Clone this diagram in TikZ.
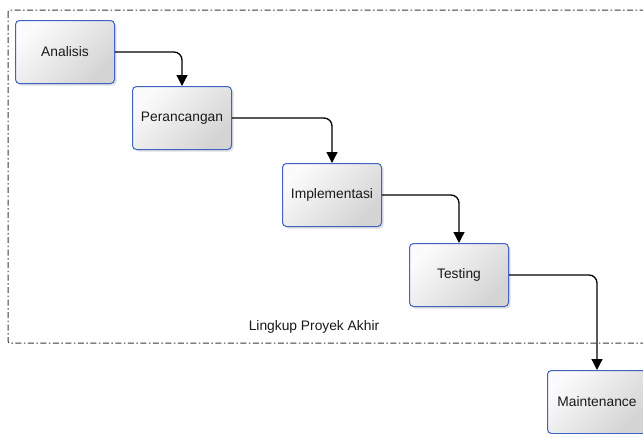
\documentclass[tikz,border=0pt]{standalone}
\usepackage{fontspec}
\setmainfont{Liberation Sans}
\usepackage{xcolor}
\usetikzlibrary{arrows.meta, positioning, shadows}

\definecolor{boxline}{HTML}{3F63C2}
\definecolor{frameline}{HTML}{3A3A3A}

\begin{document}
\begin{tikzpicture}[
  x=1pt, y=-1pt,
  phase/.style={rectangle, rounded corners=4pt, draw=boxline, line width=1pt,
              top color=gray!3, bottom color=gray!34, shading angle=45,
              minimum width=99pt, minimum height=63pt, align=center,
              font=\fontsize{13.8}{16}\selectfont, text=black!90,
              drop shadow={opacity=0.25, shadow xshift=2pt, shadow yshift=-2pt}},
  arrow/.style={-{Triangle[length=11pt, width=11pt]}, line width=1.3pt,
              rounded corners=8pt, draw=black},
  scope frame/.style={draw=frameline, line width=1pt, rounded corners=2pt,
              dash pattern=on 6pt off 2.5pt on 1.5pt off 2.5pt}
]
\useasboundingbox (0,0) rectangle (643,434);
\fill[white] (0,0) rectangle (643,434);

% lingkup proyek
\draw[scope frame] (8,10) rectangle (665,343);
\node[font=\fontsize{13.8}{16}\selectfont, text=black!90] (lingkup) at (314,327) {Lingkup Proyek Akhir};

\node[phase] (ana) at (65,52) {Analisis};
\node[phase, below right=2pt and 17pt of ana] (per) {Perancangan};
\node[phase, below right=13pt and 50pt of per] (imp) {Implementasi};
\node[phase, below right=16pt and 27pt of imp] (tes) {Testing};
\node[phase, below right=63pt and 38pt of tes] (mai) {Maintenance};

\draw[arrow] (ana.east) -| (per.north);
\draw[arrow] (per.east) -| (imp.north);
\draw[arrow] (imp.east) -| (tes.north);
\draw[arrow] (tes.east) -| (mai.north);

\end{tikzpicture}
\end{document}
